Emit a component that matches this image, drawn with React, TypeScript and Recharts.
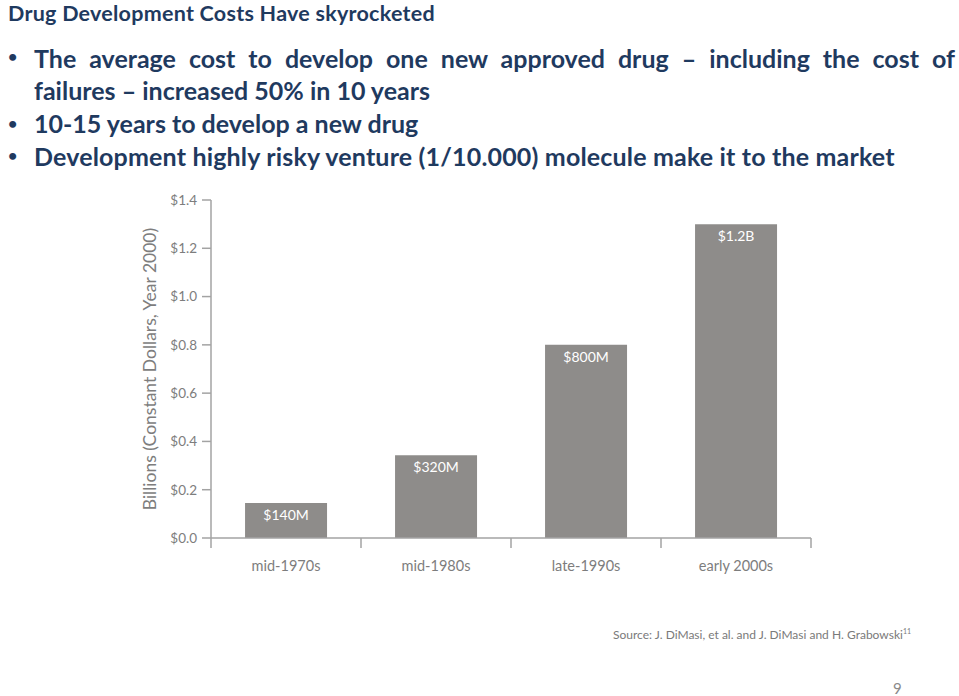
import React from 'react';
import { BarChart, Bar, XAxis, YAxis, LabelList } from 'recharts';

const eras = ['mid-1970s', 'mid-1980s', 'late-1990s', 'early 2000s'];
const costs = [0.145, 0.343, 0.8, 1.3];
const costLabels = ['$140M', '$320M', '$800M', '$1.2B'];
const yTicks = [0, 0.2, 0.4, 0.6, 0.8, 1.0, 1.2, 1.4];

const data = eras.map((era, i) => ({ era, cost: costs[i], label: costLabels[i] }));

const NAVY = '#1f3a5f';
const AXIS = '#a3a3a3';
const TICKTXT = '#7d7d7d';
const BAR = '#8e8c8a';
const FONT = 'Lato, "Open Sans", sans-serif';
const X_TICK_SIZE = 10;
const X_TICK_MARGIN = 8;

const XTick = (props: any) => {
  const { x, y, payload, index, width, visibleTicksCount } = props;
  const half = payload && payload.offset ? payload.offset : width / (visibleTicksCount || 4) / 2;
  const y1 = y - X_TICK_MARGIN - X_TICK_SIZE;
  const y2 = y - X_TICK_MARGIN;
  return (
    <g>
      {index === 0 && <line x1={x - half} x2={x - half} y1={y1} y2={y2} stroke={AXIS} strokeWidth={1.5} />}
      <line x1={x + half} x2={x + half} y1={y1} y2={y2} stroke={AXIS} strokeWidth={1.5} />
      <text x={x} y={y + 15} textAnchor="middle" fill={TICKTXT} fontSize={14.5} fontFamily={FONT}>
        {payload.value}
      </text>
    </g>
  );
};

const lineStyle = (top: number): React.CSSProperties => ({
  position: 'absolute',
  left: 34,
  top,
  fontSize: 25,
  lineHeight: '30px',
  fontWeight: 700,
  color: NAVY,
  fontFamily: FONT,
  whiteSpace: 'nowrap',
});

const bulletStyle = (top: number): React.CSSProperties => ({
  position: 'absolute',
  left: 8,
  top,
  fontSize: 16,
  lineHeight: '16px',
  fontWeight: 700,
  color: NAVY,
  fontFamily: FONT,
});

export default function App() {
  return (
    <div style={{ position: 'absolute', left: 0, top: 0, width: 959, height: 696, background: '#fff' }}>
      <div
        style={{
          position: 'absolute',
          left: 8,
          top: 0,
          fontSize: 21.5,
          lineHeight: 'normal',
          letterSpacing: 0.25,
          fontWeight: 700,
          color: NAVY,
          fontFamily: FONT,
          whiteSpace: 'nowrap',
        }}
      >
        Drug Development Costs Have skyrocketed
      </div>

      <div style={bulletStyle(48)}>•</div>
      <div
        style={{
          ...lineStyle(43),
          width: 921,
          whiteSpace: 'normal',
          textAlign: 'justify',
          textAlignLast: 'justify',
        }}
      >
        The average cost to develop one new approved drug – including the cost of
      </div>
      <div style={lineStyle(75)}>failures – increased 50% in 10 years</div>
      <div style={bulletStyle(115)}>•</div>
      <div style={lineStyle(108)}>10-15 years to develop a new drug</div>
      <div style={bulletStyle(147)}>•</div>
      <div style={{ ...lineStyle(141), letterSpacing: 0.17 }}>
        Development highly risky venture (1/10.000) molecule make it to the market
      </div>

      <div style={{ position: 'absolute', left: 0, top: 180 }}>
        <BarChart
          width={959}
          height={420}
          data={data}
          margin={{ top: 20, right: 148, bottom: 0, left: 0 }}
          barCategoryGap="22.7%"
        >
          <XAxis
            dataKey="era"
            height={62}
            axisLine={{ stroke: AXIS, strokeWidth: 1.5 }}
            tickLine={false}
            tickSize={X_TICK_SIZE}
            tickMargin={X_TICK_MARGIN}
            tick={<XTick />}
            interval={0}
          />
          <YAxis
            width={211}
            domain={[0, 1.4]}
            ticks={yTicks}
            interval={0}
            tickFormatter={(v: number) => `$${v.toFixed(1)}`}
            axisLine={{ stroke: AXIS, strokeWidth: 1.5 }}
            tickLine={{ stroke: AXIS, strokeWidth: 1.5 }}
            tickSize={9}
            tickMargin={5}
            tick={{ fill: TICKTXT, fontSize: 13.5, fontFamily: FONT }}
            label={{
              value: 'Billions (Constant Dollars, Year 2000)',
              angle: -90,
              position: 'insideLeft',
              offset: 150,
              style: { textAnchor: 'middle', fill: TICKTXT, fontSize: 17.5, fontFamily: FONT },
            }}
          />
          <Bar dataKey="cost" fill={BAR} isAnimationActive={false}>
            <LabelList
              dataKey="label"
              position="insideTop"
              offset={7}
              fill="#ffffff"
              fontSize={14}
              fontFamily={FONT}
            />
          </Bar>
        </BarChart>
      </div>

      <div
        style={{
          position: 'absolute',
          left: 613,
          top: 624,
          fontSize: 12,
          lineHeight: '14.4px',
          color: '#7a7a7a',
          fontFamily: FONT,
          whiteSpace: 'nowrap',
        }}
      >
        Source: J. DiMasi, et al. and J. DiMasi and H. Grabowski<sup style={{ fontSize: 7 }}>11</sup>
      </div>
      <div
        style={{
          position: 'absolute',
          left: 893,
          top: 679,
          fontSize: 15,
          lineHeight: '18px',
          color: '#8a8a8a',
          fontFamily: FONT,
        }}
      >
        9
      </div>
    </div>
  );
}
